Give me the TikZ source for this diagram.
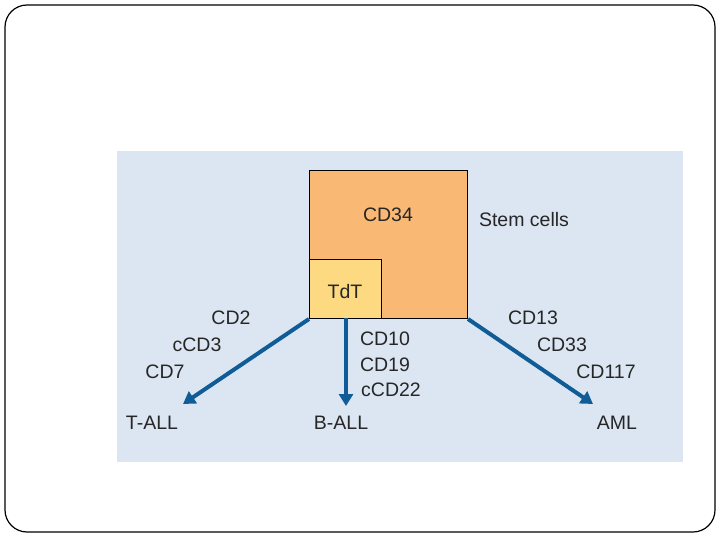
\documentclass[tikz,border=0pt]{standalone}
\usepackage{fontspec}
\setmainfont{Liberation Sans}
\usetikzlibrary{arrows.meta}
\definecolor{panel}{HTML}{DCE6F2}
\definecolor{orangebox}{HTML}{F9B874}
\definecolor{yellowbox}{HTML}{FDD981}
\definecolor{arrowblue}{HTML}{0F5C97}
\definecolor{txt}{HTML}{262626}
\begin{document}
\begin{tikzpicture}[x=1pt,y=-1pt,
  lbl/.style={font=\fontsize{19.5}{21}\selectfont, text=txt, inner sep=0pt, anchor=center},
  boxline/.style={draw=black, line width=1pt},
  flow/.style={draw=arrowblue, line width=4pt, -{Triangle[width=14pt,length=12pt]}}]
\useasboundingbox (0,0) rectangle (720,540);
\draw[line width=1.2pt, rounded corners=22pt] (5,5) rectangle (715,532);
\fill[panel] (117,151) rectangle (683,462);
\node[boxline, fill=orangebox, minimum width=158pt, minimum height=148pt, anchor=north west, inner sep=0pt] (stem) at (309,170) {};
\node[boxline, fill=yellowbox, minimum width=72pt, minimum height=59pt, anchor=south west, inner sep=0pt] (tdt) at (stem.south west) {};
\node[lbl] (cd34) at (388,215) {CD34};
\node[lbl] (tdtl) at (345,292) {TdT};
\node[lbl] (stemcells) at (524,220) {Stem cells};
\coordinate (bstart) at (346,318);
\node[lbl] (tall) at (152,423) {T-ALL};
\node[lbl] (ball) at (341,423) {B-ALL};
\node[lbl] (aml) at (617,423) {AML};
\coordinate (tend) at (183,404);
\coordinate (bend) at (346,406);
\coordinate (aend) at (593,404);
\draw[flow] (stem.south west) -- (tend);
\draw[flow] (bstart) -- (bend);
\draw[flow] (stem.south east) -- (aend);
\node[lbl] (cd2) at (231,318) {CD2};
\node[lbl] (ccd3) at (197,345) {cCD3};
\node[lbl] (cd7) at (165,372) {CD7};
\node[lbl] (cd10) at (385,339) {CD10};
\node[lbl] (cd19) at (385,365) {CD19};
\node[lbl] (ccd22) at (391,390) {cCD22};
\node[lbl] (cd13) at (533,318) {CD13};
\node[lbl] (cd33) at (562,345) {CD33};
\node[lbl] (cd117) at (606,372) {CD117};
\end{tikzpicture}
\end{document}
